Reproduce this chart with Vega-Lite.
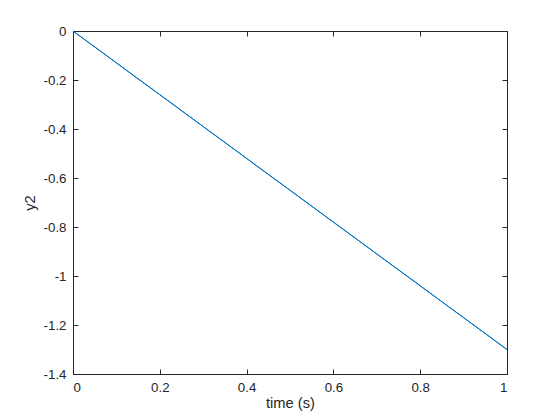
{
  "$schema": "https://vega.github.io/schema/vega-lite/v6.json",
  "width": 434,
  "height": 343,
  "autosize": {"type": "none"},
  "padding": {"left": 73, "top": 31, "right": 53, "bottom": 46},
  "background": "white",
  "config": {
    "view": {"stroke": "#262626", "strokeWidth": 1},
    "axis": {
      "domainColor": "#262626",
      "tickColor": "#262626",
      "tickSize": -5,
      "labelColor": "#262626",
      "titleColor": "#262626",
      "labelFont": "Liberation Sans",
      "titleFont": "Liberation Sans",
      "labelFontSize": 13.3,
      "titleFontSize": 14.7,
      "titleFontWeight": "normal",
      "grid": false
    }
  },
  "data": {
    "values": [
      {"t": 0.0, "y2": 0.0},
      {"t": 0.1, "y2": -0.13},
      {"t": 0.2, "y2": -0.26},
      {"t": 0.3, "y2": -0.39},
      {"t": 0.4, "y2": -0.52},
      {"t": 0.5, "y2": -0.65},
      {"t": 0.6, "y2": -0.78},
      {"t": 0.7, "y2": -0.91},
      {"t": 0.8, "y2": -1.04},
      {"t": 0.9, "y2": -1.17},
      {"t": 1.0, "y2": -1.3}
    ]
  },
  "layer": [
    {
      "mark": {"type": "line", "color": "#0072BD", "strokeWidth": 1},
      "encoding": {
        "x": {"field": "t", "type": "quantitative", "scale": {"domain": [0, 1], "nice": false},
              "axis": {"title": "time (s)", "values": [0, 0.2, 0.4, 0.6, 0.8, 1], "format": "~g", "labelPadding": 11, "titlePadding": 2}},
        "y": {"field": "y2", "type": "quantitative", "scale": {"domain": [-1.4, 0], "nice": false, "zero": false},
              "axis": {"title": "y2", "values": [0, -0.2, -0.4, -0.6, -0.8, -1, -1.2, -1.4], "format": "~g", "labelExpr": "replace(datum.label, '−', '-')", "labelPadding": 12, "titlePadding": 6}}
      }
    },
    {
      "mark": {"type": "line", "color": "#0072BD", "strokeWidth": 1},
      "encoding": {
        "x": {"field": "t", "type": "quantitative", "scale": {"domain": [0, 1], "nice": false},
              "axis": {"orient": "top", "title": null, "labels": false, "values": [0, 0.2, 0.4, 0.6, 0.8, 1]}},
        "y": {"field": "y2", "type": "quantitative", "scale": {"domain": [-1.4, 0], "nice": false, "zero": false},
              "axis": {"orient": "right", "title": null, "labels": false, "values": [0, -0.2, -0.4, -0.6, -0.8, -1, -1.2, -1.4]}}
      }
    }
  ],
  "resolve": {"axis": {"x": "independent", "y": "independent"}}
}
